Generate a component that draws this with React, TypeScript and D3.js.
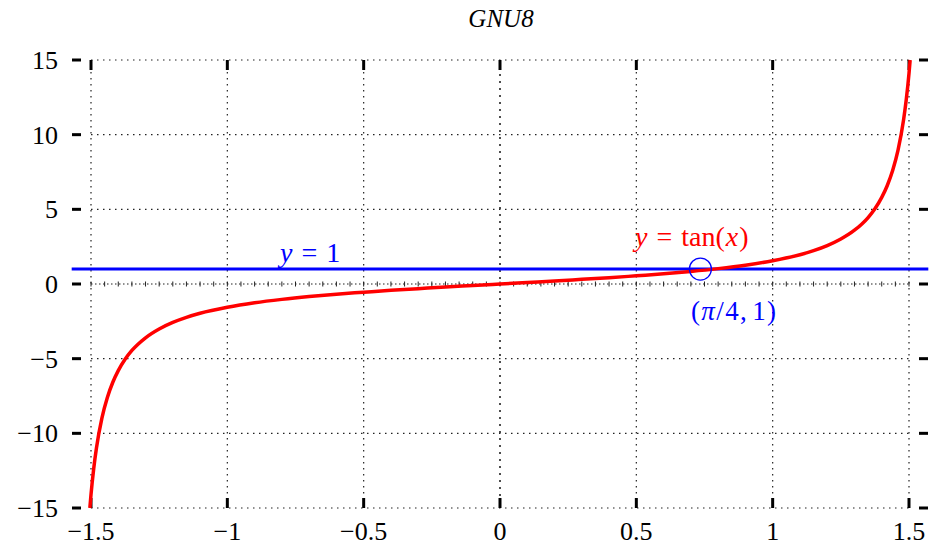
import React, { useRef, useEffect } from 'react';
import * as d3 from 'd3';

// tick values
const xTicks = [-1.5, -1, -0.5, 0, 0.5, 1, 1.5];
const yTicks = [-15, -10, -5, 0, 5, 10, 15];

// y = tan(x)
const curveX = [-1.5042, -1.5, -1.49, -1.48, -1.46, -1.44, -1.42, -1.4, -1.375, -1.35, -1.3, -1.25, -1.2, -1.15, -1.1, -1.0, -0.9, -0.8, -0.7, -0.6, -0.5, -0.4, -0.3, -0.2, -0.1, 0,
  0.1, 0.2, 0.3, 0.4, 0.5, 0.6, 0.7, 0.8, 0.9, 1.0, 1.1, 1.15, 1.2, 1.25, 1.3, 1.35, 1.375, 1.4, 1.42, 1.44, 1.46, 1.48, 1.49, 1.5, 1.5042];
const curveY = [-15, -14.1, -12.35, -10.98, -8.98, -7.6, -6.58, -5.8, -5.04, -4.45, -3.6, -3.01, -2.57, -2.23, -1.96, -1.56, -1.26, -1.03, -0.84, -0.68, -0.55, -0.42, -0.31, -0.2, -0.1, 0,
  0.1, 0.2, 0.31, 0.42, 0.55, 0.68, 0.84, 1.03, 1.26, 1.56, 1.96, 2.23, 2.57, 3.01, 3.6, 4.45, 5.04, 5.8, 6.58, 7.6, 8.98, 10.98, 12.35, 14.1, 15];

// y = 1 line
const lineX = [-1.5708, 1.5708];
const lineY = [1, 1];

// marked point
const markX = 0.735;
const markY = 1;

const fmt = (v: number) => String(v).replace('-', '\u2212');

const Chart = ({ width, height }: { width: number; height: number }) => {
  const svgRef = useRef<SVGSVGElement>(null);

  useEffect(() => {
    const svg = d3.select(svgRef.current);
    svg.selectAll('*').remove();

    const x = d3.scaleLinear().domain([-1.5, 1.5]).range([91, 909]);
    const y = d3.scaleLinear().domain([-15, 15]).range([508, 60]);
    const font = '"Liberation Serif", "DejaVu Serif", serif';

    const g = svg.append('g');

    // grid
    g.selectAll('.vgrid')
      .data(xTicks.filter(d => d !== 0))
      .enter().append('line')
      .attr('x1', d => x(d)).attr('x2', d => x(d))
      .attr('y1', y(15)).attr('y2', y(-15))
      .attr('stroke', '#222').attr('stroke-width', 1.2)
      .attr('stroke-dasharray', '1.5 4.5');
    g.selectAll('.hgrid')
      .data(yTicks.filter(d => d !== 0))
      .enter().append('line')
      .attr('x1', x(-1.5)).attr('x2', x(1.5))
      .attr('y1', d => y(d)).attr('y2', d => y(d))
      .attr('stroke', '#222').attr('stroke-width', 1.2)
      .attr('stroke-dasharray', '1.5 4.5');

    // zero axes, denser
    g.append('line')
      .attr('x1', x(-1.5)).attr('x2', x(1.5))
      .attr('y1', y(0)).attr('y2', y(0))
      .attr('stroke', '#222').attr('stroke-width', 1.2)
      .attr('stroke-dasharray', '1.5 2.5');
    g.selectAll('.zt')
      .data(d3.range(-1.5, 1.5001, 0.05))
      .enter().append('line')
      .attr('x1', d => x(d)).attr('x2', d => x(d))
      .attr('y1', y(0) - 2.5).attr('y2', y(0) + 2.5)
      .attr('stroke', '#222').attr('stroke-width', 1);
    g.append('line')
      .attr('x1', x(0)).attr('x2', x(0))
      .attr('y1', y(15)).attr('y2', y(-15))
      .attr('stroke', '#222').attr('stroke-width', 1.6)
      .attr('stroke-dasharray', '2 5');

    // x ticks (inside, top and bottom)
    g.selectAll('.xtb')
      .data(xTicks)
      .enter().append('line')
      .attr('x1', d => x(d)).attr('x2', d => x(d))
      .attr('y1', y(-15)).attr('y2', y(-15) - 10)
      .attr('stroke', '#000').attr('stroke-width', 3);
    g.selectAll('.xtt')
      .data(xTicks)
      .enter().append('line')
      .attr('x1', d => x(d)).attr('x2', d => x(d))
      .attr('y1', y(15)).attr('y2', y(15) + 10)
      .attr('stroke', '#000').attr('stroke-width', 3);

    // y ticks (outside, left and right)
    g.selectAll('.ytl')
      .data(yTicks)
      .enter().append('line')
      .attr('x1', 72).attr('x2', 81)
      .attr('y1', d => y(d)).attr('y2', d => y(d))
      .attr('stroke', '#000').attr('stroke-width', 3);
    g.selectAll('.ytr')
      .data(yTicks)
      .enter().append('line')
      .attr('x1', 919).attr('x2', 928)
      .attr('y1', d => y(d)).attr('y2', d => y(d))
      .attr('stroke', '#000').attr('stroke-width', 3);

    // tick labels
    g.selectAll('.xl')
      .data(xTicks)
      .enter().append('text')
      .attr('x', d => x(d)).attr('y', 540)
      .attr('text-anchor', 'middle')
      .attr('font-family', font).attr('font-size', 26)
      .text(d => fmt(d));
    g.selectAll('.yl')
      .data(yTicks)
      .enter().append('text')
      .attr('x', 58).attr('y', d => y(d) + 9)
      .attr('text-anchor', 'end')
      .attr('font-family', font).attr('font-size', 26)
      .text(d => fmt(d));

    // y = 1
    const line = d3.line<number>()
      .x((d, i) => x(lineX[i]))
      .y(d => y(d));
    g.append('path')
      .attr('d', line(lineY))
      .attr('fill', 'none').attr('stroke', '#0000ff').attr('stroke-width', 3);

    // tan curve
    const curve = d3.line<number>()
      .x((d, i) => x(curveX[i]))
      .y(d => y(d))
      .curve(d3.curveMonotoneX);
    g.append('path')
      .attr('d', curve(curveY))
      .attr('fill', 'none').attr('stroke', '#ff0000').attr('stroke-width', 3.5);

    // marker
    g.append('circle')
      .attr('cx', x(markX)).attr('cy', y(markY)).attr('r', 11)
      .attr('fill', 'none').attr('stroke', '#0000ff').attr('stroke-width', 1.3);

    // annotations, math-style spacing around "="
    const t1 = g.append('text')
      .attr('x', 635).attr('y', 246)
      .attr('font-family', font).attr('font-size', 28)
      .attr('fill', '#ff0000');
    t1.append('tspan').attr('font-style', 'italic').text('y');
    t1.append('tspan').attr('dx', 9).text('=');
    t1.append('tspan').attr('dx', 9).text('tan(');
    t1.append('tspan').attr('font-style', 'italic').attr('dx', 1).text('x');
    t1.append('tspan').attr('dx', 1).text(')');

    const t2 = g.append('text')
      .attr('x', 280).attr('y', 262)
      .attr('font-family', font).attr('font-size', 28)
      .attr('fill', '#0000ff');
    t2.append('tspan').attr('font-style', 'italic').text('y');
    t2.append('tspan').attr('dx', 9).text('=');
    t2.append('tspan').attr('dx', 9).text('1');

    const t3 = g.append('text')
      .attr('x', 691).attr('y', 320)
      .attr('textLength', 85).attr('lengthAdjust', 'spacing')
      .attr('font-family', font).attr('font-size', 27)
      .attr('fill', '#0000ff');
    t3.append('tspan').text('(');
    t3.append('tspan').attr('font-style', 'italic').text('\u03c0');
    t3.append('tspan').text('/4,');
    t3.append('tspan').attr('dx', 4).text('1)');

    // title
    g.append('text')
      .attr('x', 501).attr('y', 27)
      .attr('text-anchor', 'middle')
      .attr('font-family', font).attr('font-size', 25)
      .attr('font-style', 'italic')
      .text('GNU8');
  }, [width, height]);

  return <svg ref={svgRef} width={width} height={height} style={{ display: 'block' }} />;
};

export default function App() {
  useEffect(() => {
    document.body.style.margin = '0';
  }, []);
  return <Chart width={931} height={546} />;
}
